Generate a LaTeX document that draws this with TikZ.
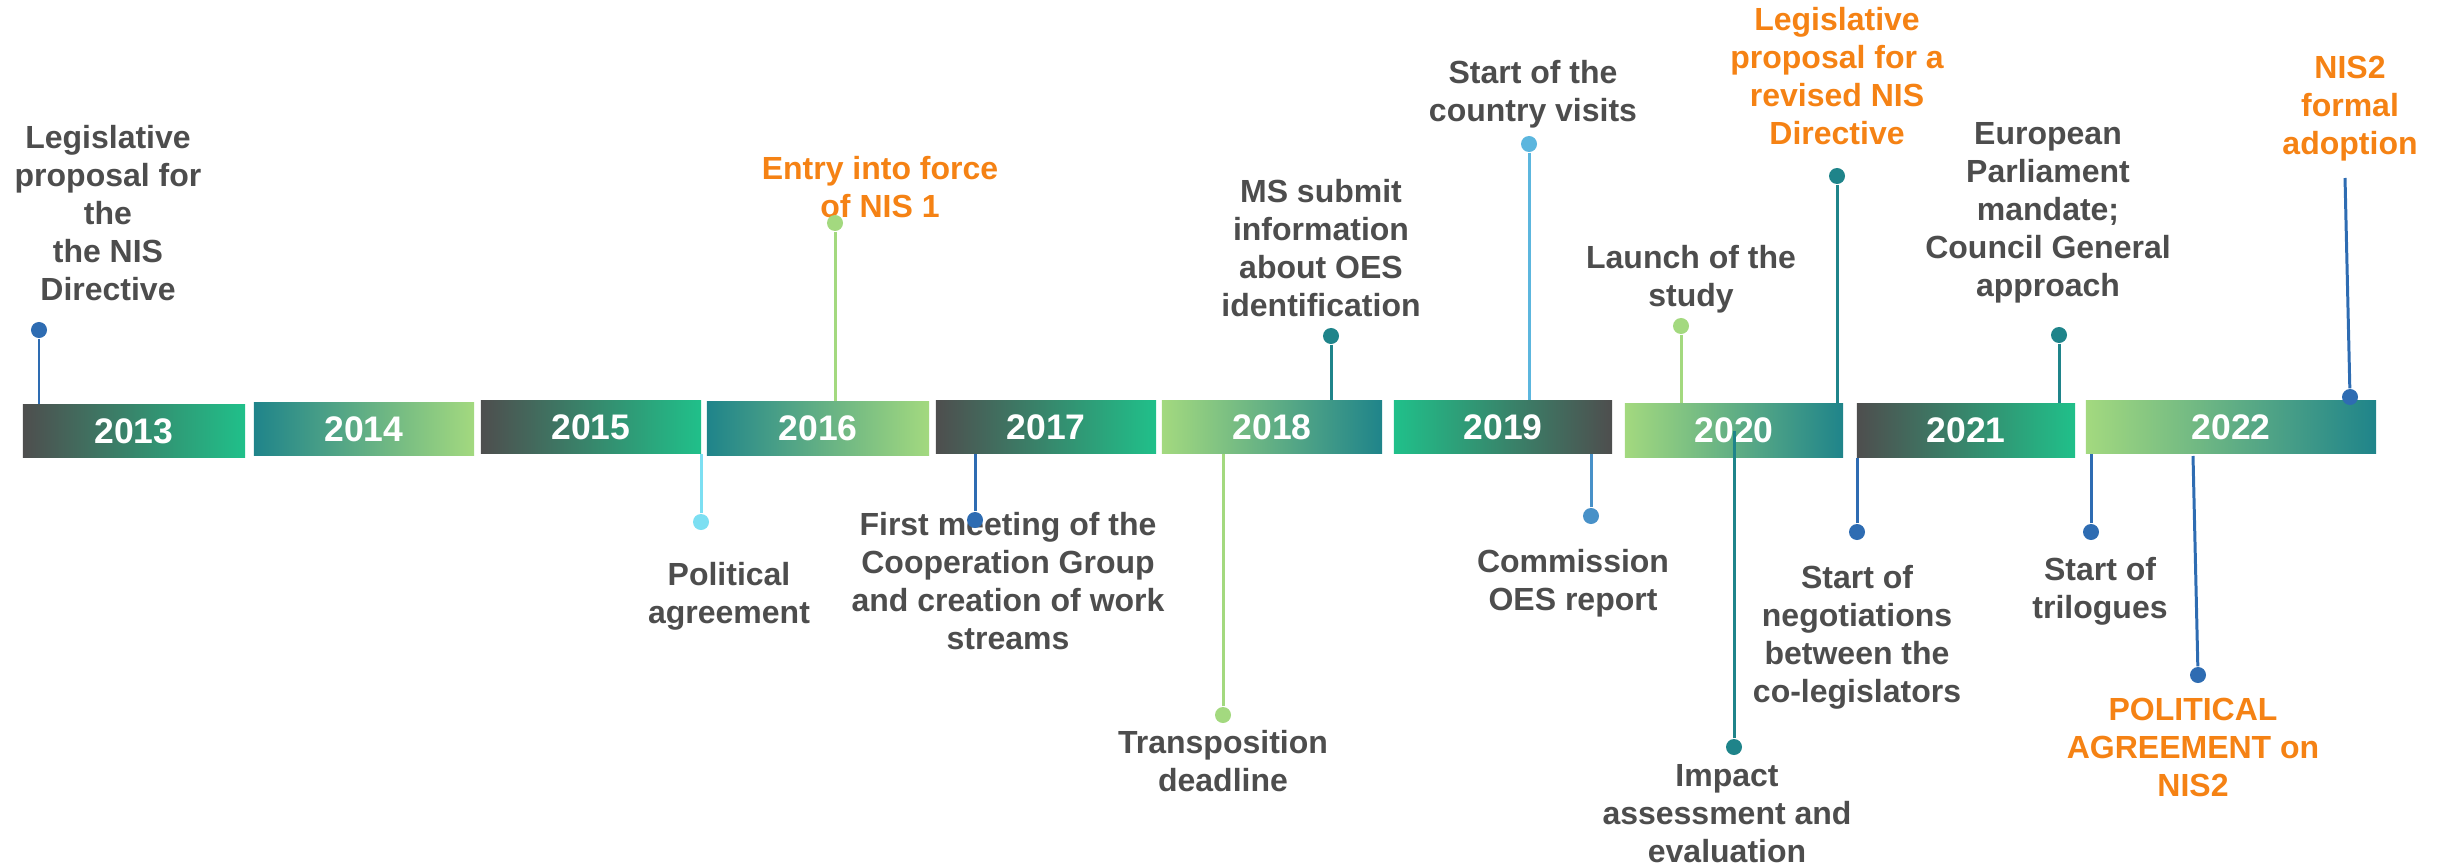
\documentclass[tikz,border=0pt]{standalone}
\usepackage{xcolor}
\usepackage{fontspec}
\setmainfont{Liberation Sans}
\usepackage{tikz}
\usetikzlibrary{positioning}

\definecolor{txtgray}{RGB}{77,77,77}
\definecolor{nisorange}{RGB}{245,130,20}
\definecolor{bargray}{RGB}{78,78,78}
\definecolor{bargreen}{RGB}{32,192,138}
\definecolor{barteal}{RGB}{31,132,138}
\definecolor{barlime}{RGB}{163,217,127}
\definecolor{evblue}{RGB}{46,108,178}
\definecolor{evcyan}{RGB}{124,223,242}
\definecolor{evsky}{RGB}{92,182,222}
\definecolor{evmid}{RGB}{72,145,200}

\tikzset{
    yearbar/.style={rectangle, inner sep=0pt, minimum height=0.53cm, text=white,
        font=\fontsize{10.1}{12}\selectfont\bfseries},
    evtext/.style={align=center, anchor=north, inner sep=0pt, text=txtgray,
        font=\fontsize{9.1}{10.8}\selectfont\bfseries},
    keytext/.style={evtext, text=nisorange},
    evdot/.style={circle, fill=#1, inner sep=0pt, minimum size=0.16cm},
    evstem/.style={draw=#1, line width=0.85pt},
}

\begin{document}
\begin{tikzpicture}[x=0.01cm, y=-0.01cm]
    \useasboundingbox (0,0) rectangle (2443,867);

    % year bars
    \foreach \yr/\cx/\cy/\w/\lc/\rc in {
        2013/134/431/2.22/bargray/bargreen,
        2014/364/429/2.20/barteal/barlime,
        2015/591/427/2.20/bargray/bargreen,
        2016/818/428.5/2.22/barteal/barlime,
        2017/1046/427/2.20/bargray/bargreen,
        2018/1272/427/2.20/barlime/barteal,
        2019/1503/427/2.18/bargreen/bargray,
        2020/1734/430.5/2.18/barlime/barteal,
        2021/1966/430.5/2.18/bargray/bargreen,
        2022/2231/427/2.90/barlime/barteal}
        \node[yearbar, minimum width=\w cm, left color=\lc, right color=\rc] (y\yr) at (\cx,\cy) {\yr};

    % labels above
    \node[evtext] (leg13) at (108,125) {Legislative\\proposal for\\the\\the NIS\\Directive};
    \node[keytext] (entry) at (880,156) {Entry into force\\of NIS 1};
    \node[evtext] (mssub) at (1321,179) {MS submit\\information\\about OES\\identification};
    \node[evtext] (visits) at (1533,60) {Start of the\\country visits};
    \node[evtext] (launch) at (1691,245) {Launch of the\\study};
    \node[keytext] (legrev) at (1837,7) {Legislative\\proposal for a\\revised NIS\\Directive};
    \node[evtext] (epmand) at (2048,122) {European\\Parliament\\mandate;\\Council General\\approach};
    \node[keytext] (adopt) at (2350,55) {NIS2\\formal\\adoption};

    % labels below
    \node[evtext] (polagr) at (729,562) {Political\\agreement};
    \node[evtext] (meet) at (1008,512) {First meeting of the\\Cooperation Group\\and creation of work\\streams};
    \node[evtext] (transp) at (1223,730) {Transposition\\deadline};
    \node[evtext] (oesrep) at (1573,549) {Commission\\OES report};
    \node[evtext] (impact) at (1727,764) {Impact\\assessment and\\evaluation};
    \node[evtext] (negot) at (1857,565) {Start of\\negotiations\\between the\\co-legislators};
    \node[evtext] (trilog) at (2100,557) {Start of\\trilogues};
    \node[keytext] (polnis) at (2193,697) {POLITICAL\\AGREEMENT on\\NIS2};

    % dots
    \node[evdot=evblue] (d1) at (39,330) {};
    \node[evdot=evcyan] (d2) at (701,522) {};
    \node[evdot=barlime] (d3) at (835,223) {};
    \node[evdot=evblue] (d4) at (975,520) {};
    \node[evdot=barteal] (d5) at (1331,336) {};
    \node[evdot=barlime] (d6) at (1223,715) {};
    \node[evdot=evsky] (d7) at (1529,144) {};
    \node[evdot=evmid] (d8) at (1591,516) {};
    \node[evdot=barlime] (d9) at (1681,326) {};
    \node[evdot=barteal] (d10) at (1837,176) {};
    \node[evdot=barteal] (d11) at (1734,747) {};
    \node[evdot=evblue] (d12) at (1857,532) {};
    \node[evdot=barteal] (d13) at (2059,335) {};
    \node[evdot=evblue] (d14) at (2091,532) {};
    \node[evdot=evblue] (d15) at (2198,675) {};
    \node[evdot=evblue] (d16) at (2350,397) {};
    \coordinate (p15) at (2193,456);
    \coordinate (p16) at (2345,178);

    % stems
    \draw[evstem=evblue] (d1) -- (d1 |- y2013.north);
    \draw[evstem=evcyan] (d2) -- (d2 |- y2015.south);
    \draw[evstem=barlime] (d3) -- (d3 |- y2016.north);
    \draw[evstem=evblue] (d4) -- (d4 |- y2017.south);
    \draw[evstem=barteal] (d5) -- (d5 |- y2018.north);
    \draw[evstem=barlime] (d6) -- (d6 |- y2018.south);
    \draw[evstem=evsky] (d7) -- (d7 |- y2019.north);
    \draw[evstem=evmid] (d8) -- (d8 |- y2019.south);
    \draw[evstem=barlime] (d9) -- (d9 |- y2020.north);
    \draw[evstem=barteal] (d10) -- (d10 |- y2020.north);
    \draw[evstem=barteal] (d11) -- (y2020.center);
    \draw[evstem=evblue] (d12) -- (d12 |- y2021.south);
    \draw[evstem=barteal] (d13) -- (d13 |- y2021.north);
    \draw[evstem=evblue] (d14) -- (d14 |- y2022.south);
    \draw[evstem=evblue] (d15) -- (p15);
    \draw[evstem=evblue] (d16) -- (p16);
\end{tikzpicture}
\end{document}
